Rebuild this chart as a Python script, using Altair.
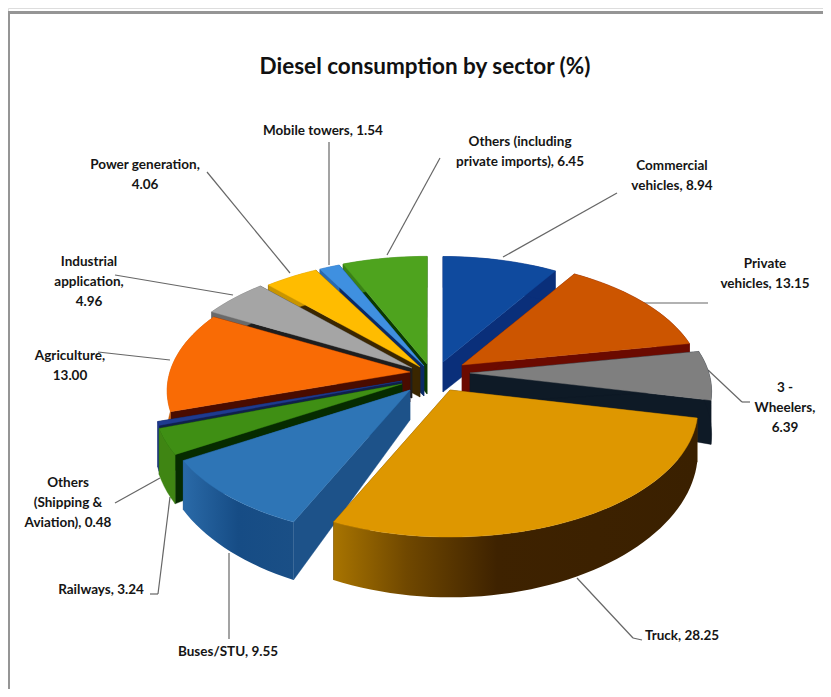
import math
import altair as alt
import pandas as pd

TITLE = "Diesel consumption by sector  (%)"
sectors = ["Commercial vehicles", "Private vehicles", "3 - Wheelers", "Truck", "Buses/STU", "Railways",
           "Others (Shipping & Aviation)", "Agriculture", "Industrial application", "Power generation",
           "Mobile towers", "Others (including private imports)"]
values = [8.94, 13.15, 6.39, 28.25, 9.55, 3.24, 0.48, 13.00, 4.96, 4.06, 1.54, 6.45]
labels = ["Commercial\nvehicles, 8.94", "Private\nvehicles, 13.15", "3 -\nWheelers,\n6.39", "Truck, 28.25",
          "Buses/STU, 9.55", "Railways, 3.24", "Others\n(Shipping &\nAviation), 0.48", "Agriculture,\n13.00",
          "Industrial\napplication,\n4.96", "Power generation,\n4.06", "Mobile towers, 1.54",
          "Others (including\nprivate imports), 6.45"]
top_colors = ["#0F4A9E", "#CC5500", "#7F7F7F", "#DE9700", "#2E75B6", "#3F8F14", "#1F3B8F", "#F96B05",
              "#A5A5A5", "#FFBC00", "#3F90E0", "#4EA31E"]
cut_colors = ["#0A2F7A", "#6B0A00", "#0E1A26", "#5A3800", "#1D5289", "#062B00", "#10204A", "#4A0C00",
              "#1E1E1E", "#3A2600", "#0A2A66", "#0B3A00"]
rim_colors = ["#0A2F7A", "#6B0A00", "#0E1A26", "#4A2A00", "#1D5289", "#3F8513", "#1F3B8F", "#C85A05",
              "#6A6A6A", "#C89400", "#2A6AB0", "#3A8016"]

# layout (page pixels)
apex = [(443, 362), (462, 365), (470, 373), (450, 390), (410, 390), (402, 384), (402, 381), (410, 372),
        (412, 368), (420, 367), (424, 366), (427, 364)]
reach = [0.97, 0.97, 0.975, 1, 1, 1, 1, 0.98, 1, 1, 1, 0.99]
draw_order = [11, 10, 9, 8, 0, 1, 2, 7, 6, 5]
label_xy = [(672, 166), (765, 264), (785, 388), (682, 636), (228, 652), (101, 590), (68, 483), (70, 356),
            (89, 262), (145, 165), (323, 131), (520, 142)]
leaders = [(617, 193, 503, 257), (708, 303, 643, 303), (708, 370, 742, 402), (742, 402, 750, 402),
           (577, 578, 633, 638), (633, 638, 642, 640),
           (229, 553, 229, 639), (170, 497, 158, 594), (158, 594, 150, 594), (160, 478, 115, 503),
           (170, 360, 98, 352), (233, 295, 115, 275), (290, 273, 207, 172), (329, 265, 329, 142),
           (387, 255, 440, 158)]
KX, KY, P, DEPTH, DP, APEX_DEPTH = 245, 125, 0.15, 41, 0.32, 30
PAGE = 8


def rim(i, t):
    """Screen point of the rim of slice i at a share-derived angle t (degrees clockwise from 12)."""
    a = math.radians(t)
    X = math.sin(a)
    Y = -math.cos(a)
    d = 1 - P * Y
    return (apex[i][0] + reach[i] * KX * X / d, apex[i][1] + reach[i] * KY * Y / d, DEPTH / (1 - DP * Y))


def arc_pts(i):
    start = sum(values[:i]) * 3.6
    end = sum(values[:i + 1]) * 3.6
    n = max(2, int((end - start) / 2))
    return [rim(i, start + (end - start) * k / n) for k in range(n + 1)]


def feature(points, fill):
    ring = [[p[0], p[1]] for p in points]
    ring.append(ring[0])
    return {"type": "Feature", "properties": {"fill": fill},
            "geometry": {"type": "Polygon", "coordinates": [ring]}}


def parts(i):
    pts = arc_pts(i)
    ax, ay = apex[i]
    cut1 = [(ax, ay), pts[0][:2], (pts[0][0], pts[0][1] + pts[0][2]), (ax, ay + APEX_DEPTH)]
    cut2 = [(ax, ay), pts[-1][:2], (pts[-1][0], pts[-1][1] + pts[-1][2]), (ax, ay + APEX_DEPTH)]
    outer = [p[:2] for p in pts] + [(p[0], p[1] + p[2]) for p in reversed(pts)]
    top = [(ax, ay)] + [p[:2] for p in pts]
    return (feature(cut1, cut_colors[i]), feature(cut2, cut_colors[i]),
            feature(outer, rim_colors[i]), feature(top, top_colors[i]))


def shapes(feats):
    return alt.Chart(alt.Data(values=feats)).mark_geoshape(strokeWidth=0.4).encode(
        fill=alt.Fill("properties.fill:N", scale=None),
        stroke=alt.Stroke("properties.fill:N", scale=None),
    ).project(type="identity", scale=1, translate=[-PAGE, -PAGE])


def one(feat, fill):
    return alt.Chart(alt.Data(values=[feat])).mark_geoshape(fill=fill, stroke=None).project(
        type="identity", scale=1, translate=[-PAGE, -PAGE])


back = []
for i in draw_order:
    c1, c2, o, t = parts(i)
    back += [c2, c1, o, t]

buses_c1, buses_c2, buses_o, buses_t = parts(4)
truck_c1, truck_c2, truck_o, truck_t = parts(3)

blue_grad = alt.Gradient(gradient="linear", x1=0, x2=1, y1=0, y2=0,
                         stops=[alt.GradientStop(color="#2A6AA8", offset=0),
                                alt.GradientStop(color="#164C85", offset=0.5),
                                alt.GradientStop(color="#1A4F86", offset=1)])
brown_grad = alt.Gradient(gradient="linear", x1=0, x2=1, y1=0, y2=0,
                          stops=[alt.GradientStop(color="#A87400", offset=0),
                                 alt.GradientStop(color="#704800", offset=0.2),
                                 alt.GradientStop(color="#3E2200", offset=0.45),
                                 alt.GradientStop(color="#3A2000", offset=1)])

df_label = pd.DataFrame({
    "label": labels,
    "px": [p[0] - PAGE for p in label_xy],
    "py": [p[1] - PAGE for p in label_xy],
})
text = alt.Chart(df_label).mark_text(font="Lato", fontWeight="bold", fontSize=13.5, lineBreak="\n",
                                     lineHeight=20, align="center", baseline="middle", color="#151515").encode(
    x=alt.X("px:Q", scale=None), y=alt.Y("py:Q", scale=None), text="label:N")

df_lead = pd.DataFrame([{"x": a - PAGE, "y": b - PAGE, "x2": c - PAGE, "y2": d - PAGE} for a, b, c, d in leaders])
lead = alt.Chart(df_lead).mark_rule(color="#666666", strokeWidth=1.2).encode(
    x=alt.X("x:Q", scale=None), y=alt.Y("y:Q", scale=None), x2="x2:Q", y2="y2:Q")

title = alt.Chart(pd.DataFrame({"t": [TITLE]})).mark_text(
    font="Lato", fontWeight="bold", fontSize=22.5, color="#111111", align="center", baseline="middle"
).encode(x=alt.value(425 - PAGE), y=alt.value(67 - PAGE), text="t:N")

frame_left = alt.Chart(pd.DataFrame({"a": [0]})).mark_rule(color="#959595", strokeWidth=3).encode(
    x=alt.value(8.5 - PAGE), y=alt.value(11 - PAGE), y2=alt.value(689 - PAGE))
frame_top = alt.Chart(pd.DataFrame({"a": [0]})).mark_rule(color="#959595", strokeWidth=3).encode(
    y=alt.value(12.5 - PAGE), x=alt.value(7 - PAGE), x2=alt.value(823 - PAGE))

chart = alt.layer(
    frame_left,
    frame_top,
    lead,
    shapes(back),
    shapes([buses_c2, buses_c1]),
    one(buses_o, blue_grad),
    shapes([buses_t]),
    shapes([truck_c2, truck_c1]),
    one(truck_o, brown_grad),
    shapes([truck_t]),
    title,
    text,
).properties(width=815, height=681, padding=0, autosize=alt.AutoSizeParams(type="none")
).configure_view(stroke=None).configure(background="white")

chart.save("out.html", embed_options={"renderer": "svg", "actions": False})
